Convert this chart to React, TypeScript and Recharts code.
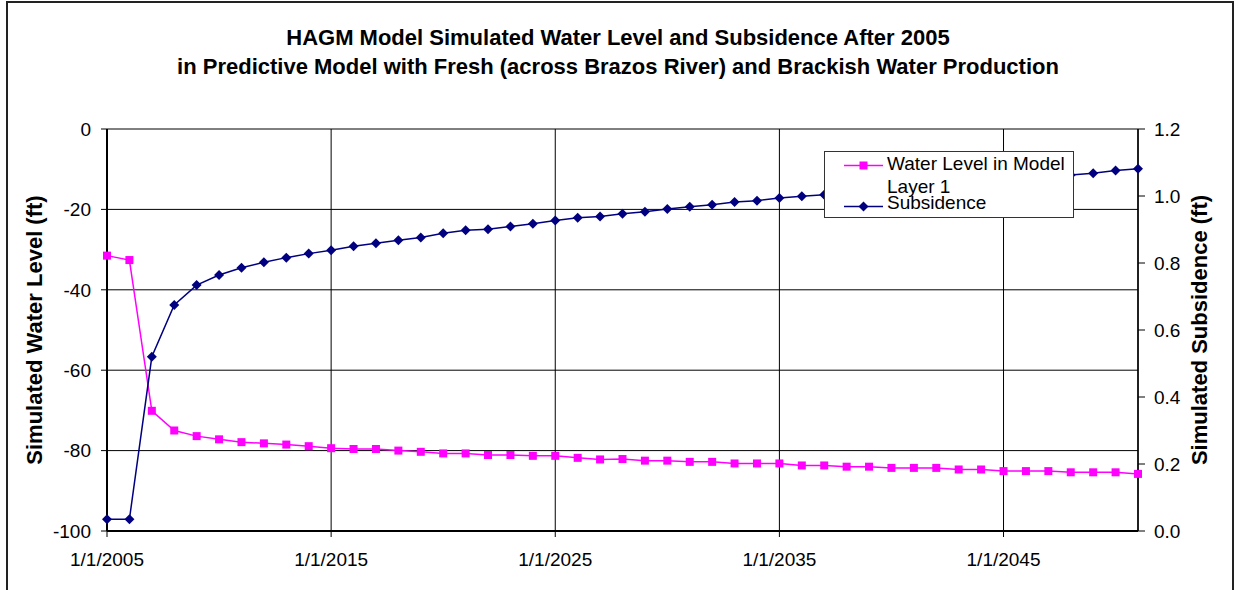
import { LineChart, Line, XAxis, YAxis, CartesianGrid, Legend } from 'recharts';

const FONT = '"Liberation Sans", Arial, sans-serif';

const years = [
    2005, 2006, 2007, 2008, 2009, 2010, 2011, 2012, 2013, 2014,
    2015, 2016, 2017, 2018, 2019, 2020, 2021, 2022, 2023, 2024,
    2025, 2026, 2027, 2028, 2029, 2030, 2031, 2032, 2033, 2034,
    2035, 2036, 2037, 2038, 2039, 2040, 2041, 2042, 2043, 2044,
    2045, 2046, 2047, 2048, 2049, 2050, 2051,
];

// water level in model layer 1 (ft)
const waterLevel = [
    -31.5, -32.6, -70.1, -75.0, -76.4, -77.2, -77.9, -78.2, -78.5, -78.9,
    -79.4, -79.6, -79.6, -80.0, -80.3, -80.7, -80.7, -81.1, -81.1, -81.3,
    -81.3, -81.8, -82.2, -82.1, -82.5, -82.5, -82.8, -82.8, -83.2, -83.2,
    -83.2, -83.7, -83.7, -84.0, -84.0, -84.3, -84.3, -84.3, -84.7, -84.7,
    -85.1, -85.1, -85.1, -85.4, -85.4, -85.4, -85.8,
];

// subsidence (ft)
const subsidence = [
    0.035, 0.035, 0.52, 0.675, 0.734, 0.764, 0.786, 0.802, 0.816, 0.828,
    0.838, 0.85, 0.859, 0.868, 0.876, 0.889, 0.898, 0.901, 0.909, 0.917,
    0.927, 0.935, 0.939, 0.947, 0.953, 0.961, 0.968, 0.974, 0.982, 0.986,
    0.994, 0.999, 1.004, 1.009, 1.015, 1.02, 1.025, 1.03, 1.036, 1.041,
    1.046, 1.052, 1.057, 1.063, 1.068, 1.076, 1.081,
];

const xTicks = [2005, 2015, 2025, 2035, 2045];
const wlTicks = [-100, -80, -60, -40, -20, 0];
const subTicks = [0, 0.2, 0.4, 0.6, 0.8, 1.0, 1.2];

const titleLines = [
    'HAGM Model Simulated Water Level and Subsidence After 2005',
    'in Predictive Model with Fresh (across Brazos River) and Brackish Water Production',
];

const legendLines: Record<string, string[]> = {
    wl: ['Water Level in Model', 'Layer 1'],
    sub: ['Subsidence'],
};

const PINK = '#FF00FF';
const NAVY = '#000080';

const rows = years.map((year, i) => ({ year, wl: waterLevel[i], sub: subsidence[i] }));

const SquareDot = (props: any) => {
    const { cx, cy, index } = props;
    return <rect key={`wl-${index}`} x={cx - 4} y={cy - 4} width={8} height={8} fill={PINK} />;
};

const DiamondDot = (props: any) => {
    const { cx, cy, index } = props;
    const r = 5;
    return (
        <polygon
            key={`sub-${index}`}
            points={`${cx},${cy - r} ${cx + r},${cy} ${cx},${cy + r} ${cx - r},${cy}`}
            fill={NAVY}
        />
    );
};

// legend rows sit at fixed spots in the box, keyed by series
const legendRow: Record<string, { line: number; text: number[] }> = {
    wl: { line: 13.5, text: [18, 40.5] },
    sub: { line: 54.5, text: [57] },
};

const renderLegend = (props: any) => {
    const { payload = [] } = props;
    return (
        <div
            style={{
                width: 250,
                height: 67,
                background: '#fff',
                border: '1px solid #333',
                boxSizing: 'border-box',
            }}
        >
            <svg width={248} height={65}>
                {payload.map((entry: any) => {
                    const key = entry.dataKey as string;
                    const pos = legendRow[key];
                    if (!pos) return null;
                    const y = pos.line;
                    const lines = legendLines[key] || [entry.value];
                    return (
                        <g key={key}>
                            <line x1={19} x2={58} y1={y} y2={y} stroke={entry.color} strokeWidth={1.5} />
                            {key === 'wl' ? (
                                <rect x={34.5} y={y - 4} width={8} height={8} fill={PINK} />
                            ) : (
                                <polygon
                                    points={`38.5,${y - 5} 43.5,${y} 38.5,${y + 5} 33.5,${y}`}
                                    fill={NAVY}
                                />
                            )}
                            {lines.map((t, j) => (
                                <text
                                    key={j}
                                    x={62}
                                    y={pos.text[j]}
                                    fontSize={19}
                                    fontFamily={FONT}
                                    fill="#000"
                                >
                                    {t}
                                </text>
                            ))}
                        </g>
                    );
                })}
            </svg>
        </div>
    );
};

const tickStyle = { fill: '#000', fontSize: 19, fontFamily: FONT };

export default function App() {
    return (
        <div
            style={{
                position: 'absolute',
                left: 0,
                top: 0,
                width: 1238,
                height: 590,
                background: '#fff',
                overflow: 'hidden',
                fontFamily: FONT,
            }}
        >
            <div
                style={{
                    position: 'absolute',
                    left: 6,
                    top: 1,
                    width: 1228,
                    height: 640,
                    border: '2px solid #222',
                    boxSizing: 'border-box',
                }}
            />
            {titleLines.map((t, i) => (
                <div
                    key={i}
                    style={{
                        position: 'absolute',
                        left: 0,
                        width: 1236,
                        top: 27 + i * 29,
                        textAlign: 'center',
                        fontSize: 22,
                        lineHeight: '22px',
                        fontWeight: 'bold',
                        color: '#000',
                    }}
                >
                    {t}
                </div>
            ))}
            <div style={{ position: 'absolute', left: 0, top: 0 }}>
                <LineChart
                    width={1238}
                    height={590}
                    data={rows}
                    margin={{ top: 129, right: 0, bottom: 19, left: 0 }}
                >
                    <CartesianGrid yAxisId="wl" stroke="#000" strokeWidth={1} />
                    <XAxis
                        dataKey="year"
                        type="number"
                        domain={[2005, 2051]}
                        ticks={xTicks}
                        tickFormatter={(v) => `1/1/${v}`}
                        height={40}
                        tick={tickStyle}
                        tickSize={6}
                        tickMargin={16}
                        axisLine={{ stroke: '#000', strokeWidth: 2 }}
                        tickLine={{ stroke: '#000' }}
                    />
                    <YAxis
                        yAxisId="wl"
                        domain={[-100, 0]}
                        ticks={wlTicks}
                        width={107}
                        tick={tickStyle}
                        tickSize={6}
                        tickMargin={10}
                        axisLine={{ stroke: '#000', strokeWidth: 2 }}
                        tickLine={{ stroke: '#000' }}
                        label={(p: any) => {
                            const vb = p.viewBox;
                            const x = vb.x + 41.5;
                            const y = vb.y + vb.height / 2;
                            return (
                                <text
                                    x={x}
                                    y={y}
                                    transform={`rotate(-90 ${x} ${y})`}
                                    textAnchor="middle"
                                    fontSize={22}
                                    fontWeight="bold"
                                    fontFamily={FONT}
                                    fill="#000"
                                >
                                    Simulated Water Level (ft)
                                </text>
                            );
                        }}
                    />
                    <YAxis
                        yAxisId="sub"
                        orientation="right"
                        domain={[0, 1.2]}
                        ticks={subTicks}
                        tickFormatter={(v) => v.toFixed(1)}
                        width={100}
                        tick={tickStyle}
                        tickSize={7}
                        tickMargin={9}
                        axisLine={{ stroke: '#000', strokeWidth: 1.5 }}
                        tickLine={{ stroke: '#000' }}
                        label={(p: any) => {
                            const vb = p.viewBox;
                            const x = vb.x + 69;
                            const y = vb.y + vb.height / 2;
                            return (
                                <text
                                    x={x}
                                    y={y}
                                    transform={`rotate(-90 ${x} ${y})`}
                                    textAnchor="middle"
                                    fontSize={22}
                                    fontWeight="bold"
                                    fontFamily={FONT}
                                    fill="#000"
                                >
                                    Simulated Subsidence (ft)
                                </text>
                            );
                        }}
                    />
                    <Line
                        yAxisId="wl"
                        dataKey="wl"
                        name="Water Level in Model Layer 1"
                        stroke={PINK}
                        strokeWidth={1.5}
                        dot={SquareDot}
                        activeDot={false}
                        isAnimationActive={false}
                    />
                    <Line
                        yAxisId="sub"
                        dataKey="sub"
                        name="Subsidence"
                        stroke={NAVY}
                        strokeWidth={1.5}
                        dot={DiamondDot}
                        activeDot={false}
                        isAnimationActive={false}
                    />
                    <Legend
                        layout="horizontal"
                        verticalAlign="middle"
                        align="center"
                        content={renderLegend}
                        wrapperStyle={{ left: 824, top: 151, width: 250, height: 67 }}
                    />
                </LineChart>
            </div>
        </div>
    );
}
